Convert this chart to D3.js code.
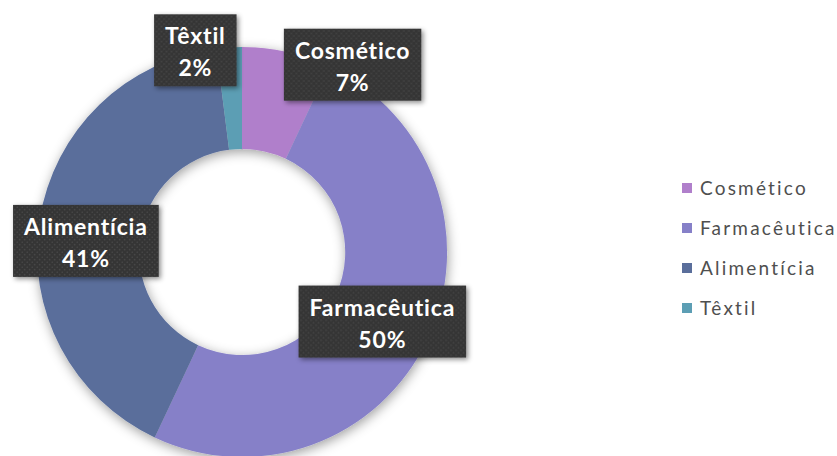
<!DOCTYPE html>
<html>
<head>
<meta charset="utf-8">
<script src="https://cdn.jsdelivr.net/npm/d3@7"></script>
<style>
  html, body { margin: 0; padding: 0; background: #ffffff; }
  svg { display: block; }
</style>
</head>
<body>
<svg id="chart" width="837" height="456"></svg>
<script>
// Share of each sector (percent)
const categories = ["Cosmético", "Farmacêutica", "Alimentícia", "Têxtil"];
const values = [7, 50, 41, 2];
const colors = ["#B07FCB", "#8680C8", "#5A6E9B", "#5C9EB4"];
// Nudges of each data label away from its slice centroid
const labelDx = [77, 1, -4, -37];
const labelDy = [-37, 4, 13, -48];

const svg = d3.select("#chart");
const cx = 242, cy = 252, outerR = 205, innerR = 103;

const defs = svg.append("defs");

// soft drop shadow used by the ring
const sh = defs.append("filter").attr("id", "shadow")
  .attr("x", "-20%").attr("y", "-20%").attr("width", "140%").attr("height", "140%");
sh.append("feDropShadow").attr("dx", 1).attr("dy", 3)
  .attr("stdDeviation", 6).attr("flood-color", "#000").attr("flood-opacity", 0.38);

// tighter shadow for the label boxes
const shBox = defs.append("filter").attr("id", "boxShadow")
  .attr("x", "-20%").attr("y", "-30%").attr("width", "140%").attr("height", "160%");
shBox.append("feDropShadow").attr("dx", 2).attr("dy", 2)
  .attr("stdDeviation", 2.5).attr("flood-color", "#000").attr("flood-opacity", 0.45);

// dotted dark fill for the label boxes
const pat = defs.append("pattern").attr("id", "dots")
  .attr("patternUnits", "userSpaceOnUse").attr("width", 5).attr("height", 5);
pat.append("rect").attr("width", 5).attr("height", 5).attr("fill", "#353535");
pat.append("circle").attr("cx", 1.25).attr("cy", 1.25).attr("r", 0.8).attr("fill", "#4b4b4b");
pat.append("circle").attr("cx", 3.75).attr("cy", 3.75).attr("r", 0.8).attr("fill", "#4b4b4b");

const total = d3.sum(values);
const data = categories.map((c, i) => ({ name: c, value: values[i], color: colors[i], i }));

const pie = d3.pie().sort(null).value(d => d.value);
const arc = d3.arc().innerRadius(innerR).outerRadius(outerR);
const arcs = pie(data);

const ring = svg.append("g")
  .attr("transform", `translate(${cx},${cy})`)
  .attr("filter", "url(#shadow)");

ring.selectAll("path").data(arcs).join("path")
  .attr("d", arc)
  .attr("fill", d => d.data.color);

// data labels: category name and share in a dark box
const labels = svg.append("g").attr("transform", `translate(${cx},${cy})`);
const fmt = v => Math.round(v / total * 100) + "%";

arcs.forEach(a => {
  const [px, py] = arc.centroid(a);
  const x = px + labelDx[a.data.i];
  const y = py + labelDy[a.data.i];
  const g = labels.append("g").attr("transform", `translate(${x},${y})`);
  const box = g.append("rect").attr("fill", "url(#dots)").attr("filter", "url(#boxShadow)");
  const t1 = g.append("text")
    .attr("text-anchor", "middle").attr("y", -6)
    .attr("font-family", "Lato, 'DejaVu Sans', sans-serif")
    .attr("font-weight", 700).attr("font-size", 23)
    .attr("letter-spacing", 0.8)
    .attr("fill", "#ffffff")
    .text(a.data.name);
  const t2 = g.append("text")
    .attr("text-anchor", "middle").attr("y", 26)
    .attr("font-family", "Lato, 'DejaVu Sans', sans-serif")
    .attr("font-weight", 700).attr("font-size", 23)
    .attr("letter-spacing", 0.8)
    .attr("fill", "#ffffff")
    .text(fmt(a.data.value));
  const w = Math.max(t1.node().getComputedTextLength(), t2.node().getComputedTextLength()) + 22;
  box.attr("x", -w / 2).attr("y", -36).attr("width", w).attr("height", 72);
});

// legend
const legend = svg.append("g").attr("transform", "translate(682,188)");
const rowStep = 40;
const items = legend.selectAll("g").data(data).join("g")
  .attr("transform", (d, i) => `translate(0,${i * rowStep})`);
items.append("rect")
  .attr("x", 0).attr("y", -5).attr("width", 10).attr("height", 10)
  .attr("fill", d => d.color);
items.append("text")
  .attr("x", 18).attr("y", 0).attr("dy", "0.36em")
  .attr("font-family", "Lato, 'DejaVu Sans', sans-serif")
  .attr("font-size", 19).attr("letter-spacing", 2.2)
  .attr("fill", "#4f4f4f")
  .text(d => d.name);
</script>
</body>
</html>
